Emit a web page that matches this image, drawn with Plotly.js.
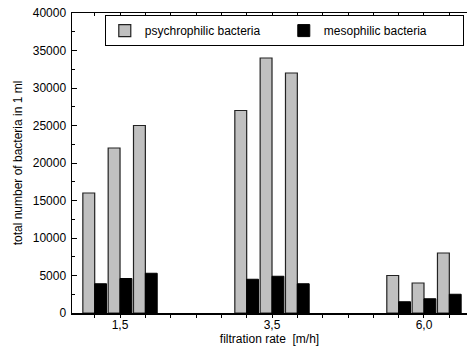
<!DOCTYPE html>
<html>
<head>
<meta charset="utf-8">
<script src="https://cdn.plot.ly/plotly-3.0.1.min.js"></script>
<style>html,body{margin:0;padding:0;background:#fff;}#chart{width:468px;height:348px;}</style>
</head>
<body>
<div id="chart"></div>
<script>
// Categories (filtration rate, m/h)
var categories = ['1,5', '3,5', '6,0'];
// Psychrophilic bacteria, three samples per filtration rate
var psychroRun1 = [16000, 27000, 5000];
var psychroRun2 = [22000, 34000, 4000];
var psychroRun3 = [25000, 32000, 8000];
// Mesophilic bacteria, three samples per filtration rate
var mesoRun1 = [3900, 4500, 1500];
var mesoRun2 = [4600, 4900, 1900];
var mesoRun3 = [5300, 3900, 2500];
var yTicks = [0, 5000, 10000, 15000, 20000, 25000, 30000, 35000, 40000];

var pos = categories.map(function (c, i) { return i; });
var psychro = [psychroRun1, psychroRun2, psychroRun3];
var meso = [mesoRun1, mesoRun2, mesoRun3];
var barW = 0.078;
var font = 'Arial, "Liberation Sans", sans-serif';

var traces = [];
for (var k = 0; k < 3; k++) {
  var pc = (k - 1) / 6;
  traces.push({
    type: 'bar', x: pos, y: psychro[k], offset: pc - barW, width: barW,
    name: 'psychrophilic bacteria', legendgroup: 'p', showlegend: k === 0,
    marker: { color: '#c0c0c0', line: { color: '#222', width: 1.2 } },
    hoverinfo: 'y'
  });
  traces.push({
    type: 'bar', x: pos, y: meso[k], offset: pc, width: barW,
    name: 'mesophilic bacteria', legendgroup: 'm', showlegend: k === 0,
    marker: { color: '#000000', line: { color: '#000', width: 1 } },
    hoverinfo: 'y'
  });
}

var layout = {
  width: 468, height: 348,
  margin: { l: 72, r: 1, t: 13, b: 35 },
  paper_bgcolor: '#fff', plot_bgcolor: '#fff',
  font: { family: font, size: 12, color: '#000' },
  barmode: 'overlay',
  showlegend: true,
  legend: {
    orientation: 'h', x: 0.083, y: 0.993, xanchor: 'left', yanchor: 'top',
    bordercolor: '#000', borderwidth: 1, bgcolor: '#fff',
    font: { family: font, size: 12, color: '#000' },
    entrywidth: 134, itemwidth: 30, tracegroupgap: 0
  },
  xaxis: {
    type: 'linear', range: [-0.316, 2.283],
    tickvals: pos, ticktext: categories,
    ticks: 'outside', ticklen: 0, tickcolor: '#000', tickwidth: 1,
    minor: { dtick: 1 / 6, tick0: 0, ticks: 'outside', ticklen: 3, tickcolor: '#000' },
    showline: true, linecolor: '#000', linewidth: 1.5,
    showgrid: false, zeroline: false,
    tickfont: { family: font, size: 12, color: '#000' },
    title: { text: 'filtration rate\u00a0\u00a0[m/h]', font: { family: font, size: 12, color: '#000' }, standoff: 0 }
  },
  xaxis2: {
    type: 'linear', range: [-0.316, 2.283], overlaying: 'x', side: 'top',
    tickvals: pos, showticklabels: false,
    ticks: 'inside', ticklen: 3, tickcolor: '#000',
    minor: { dtick: 1 / 6, tick0: 0, ticks: 'inside', ticklen: 3, tickcolor: '#000' },
    showline: true, linecolor: '#000', linewidth: 1.5,
    showgrid: false, zeroline: false
  },
  yaxis: {
    range: [0, 40000], tickvals: yTicks, ticktext: yTicks.map(String),
    ticks: 'inside', ticklen: 5, tickcolor: '#000', tickwidth: 1,
    minor: { dtick: 2500, ticks: 'inside', ticklen: 3, tickcolor: '#000' },
    showline: true, linecolor: '#000', linewidth: 1.5,
    showgrid: false, zeroline: false,
    tickfont: { family: font, size: 12, color: '#000' },
    ticklabelstandoff: 2,
    title: { text: 'total number of bacteria in 1 ml', font: { family: font, size: 12, color: '#000' }, standoff: 7 }
  }
};

// invisible trace so the mirrored top axis is rendered
traces.push({ type: 'scatter', x: [0], y: [0], xaxis: 'x2', mode: 'markers', marker: { opacity: 0 }, showlegend: false, hoverinfo: 'skip' });

Plotly.newPlot('chart', traces, layout, { displayModeBar: false, staticPlot: true });
</script>
</body>
</html>
